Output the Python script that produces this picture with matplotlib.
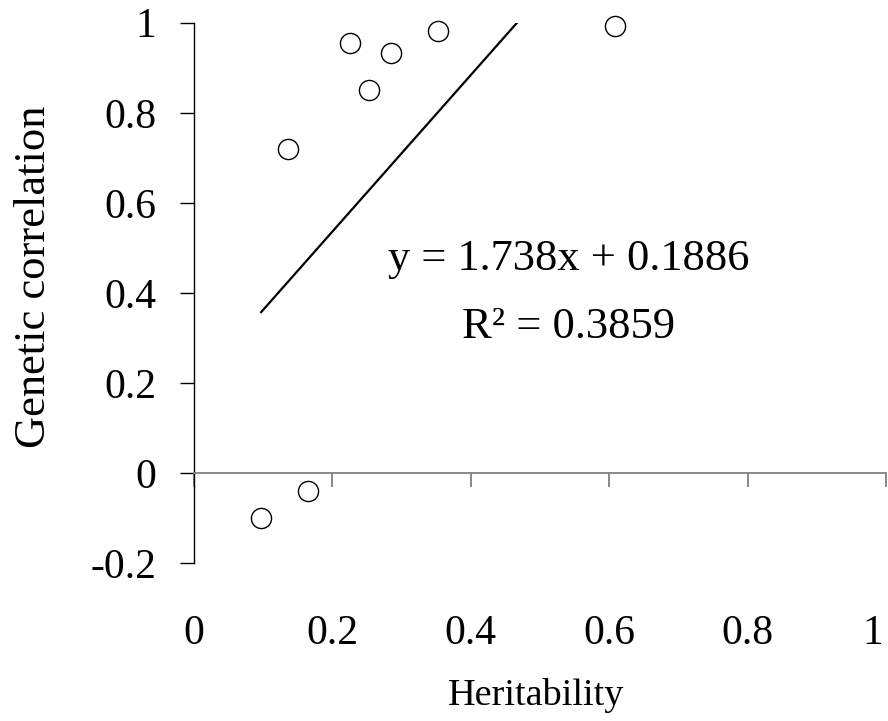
import matplotlib
matplotlib.use("Agg")
import matplotlib.pyplot as plt
import matplotlib.transforms as mtransforms
import numpy as np

plt.rcParams['font.family'] = ['Liberation Serif', 'DejaVu Serif']

# heritability vs genetic correlation
heritability = [0.097, 0.165, 0.136, 0.225, 0.253, 0.284, 0.353, 0.609]
gen_corr = [-0.10, -0.04, 0.72, 0.954, 0.85, 0.932, 0.982, 0.993]

# trend line reported on the chart
slope = 1.738
intercept = 0.1886
r2 = 0.3859

x_ticks = [0, 0.2, 0.4, 0.6, 0.8, 1]
x_tick_labels = ['0', '0.2', '0.4', '0.6', '0.8', '1']
y_ticks = [-0.2, 0, 0.2, 0.4, 0.6, 0.8, 1]
y_tick_labels = ['-0.2', '0', '0.2', '0.4', '0.6', '0.8', '1']

fig = plt.figure(figsize=(8.88, 7.21), dpi=100)
ax = fig.add_axes([0.2185, 0.2191, 0.7792, 0.7494])

xl = np.linspace(min(heritability), max(heritability), 100)
ax.plot(xl, slope * xl + intercept, color='black', lw=1.6, zorder=2)
ax.plot(heritability, gen_corr, 'o', ms=14.5, mfc='white', mec='black',
        mew=1.0, clip_on=False, zorder=3)

ax.set_xlim(0, 1)
ax.set_ylim(-0.2, 1)

ax.spines['top'].set_visible(False)
ax.spines['right'].set_visible(False)
ax.spines['bottom'].set_position(('data', 0))
ax.spines['bottom'].set_color('#808080')
ax.spines['bottom'].set_linewidth(1.3)
ax.spines['left'].set_linewidth(1.0)

ax.set_xticks(x_ticks)
ax.set_xticklabels(x_tick_labels)
ax.set_yticks(y_ticks)
ax.set_yticklabels(y_tick_labels)
ax.tick_params(axis='x', direction='out', length=10, width=1.3, color='#808080',
               pad=92, labelsize=30)
ax.tick_params(axis='y', direction='out', length=10, width=1.0, color='black',
               pad=17, labelsize=30)

# last x label is pulled in so it stays inside the picture
last = ax.get_xticklabels()[-1]
last.set_horizontalalignment('right')
last.set_transform(last.get_transform() +
                   mtransforms.ScaledTranslation(-3 / 100, 0, fig.dpi_scale_trans))

fig.text(0.0383, 0.616, 'Genetic correlation', rotation=90, ha='center',
         va='center', fontsize=32)
fig.text(0.604, 0.0222, 'Heritability', ha='center', va='baseline', fontsize=27.5)

fig.text(0.6408, 0.6255, f'y = {slope}x + {intercept}', ha='center',
         va='baseline', fontsize=32)
fig.text(0.6408, 0.5312, f'R\u00b2 = {r2}', ha='center', va='baseline',
         fontsize=32)

fig.savefig('out.png', dpi=100)
